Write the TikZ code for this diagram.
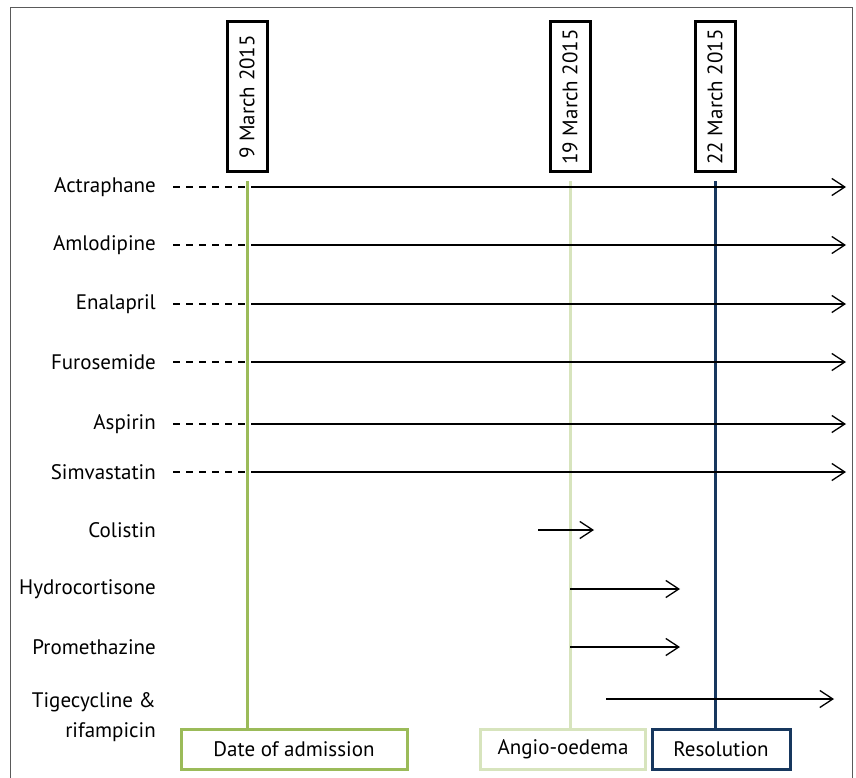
\documentclass[tikz,border=0pt]{standalone}
\usepackage{fontspec}
\setmainfont{PT Sans}
\usepackage{tikz}
\usetikzlibrary{arrows.meta}
\definecolor{admgreen}{RGB}{155,187,89}
\definecolor{angiogreen}{RGB}{215,228,189}
\definecolor{resnavy}{RGB}{23,55,94}
\definecolor{framegray}{RGB}{90,90,90}
\tikzstyle{drug} = [anchor=east, inner sep=0pt, font=\fontsize{21}{30}\selectfont, align=right]
\tikzstyle{datebox} = [draw, line width=3pt, rotate=90, minimum width=150pt, minimum height=40pt, inner sep=0pt, font=\fontsize{21}{24}\selectfont]
\tikzstyle{eventbox} = [draw, line width=3pt, minimum height=40pt, inner sep=0pt, font=\fontsize{21}{24}\selectfont]
\tikzstyle{given} = [line width=1.3pt, -{Straight Barb[length=13pt, width=17pt, line width=1.3pt]}]
\tikzstyle{before} = [line width=1.2pt, dash pattern=on 7pt off 6pt]

\begin{document}
\begin{tikzpicture}[x=1pt, y=-1pt]
			\useasboundingbox (0,0) rectangle (856,778);
			\draw[framegray, line width=1pt] (10,790)--(10,8)--(852,8)--(852,790);
			% dates
			\node[datebox] (d1) at (247,97) {9 March 2015};
			\node[datebox] (d2) at (570,97) {19 March 2015};
			\node[datebox] (d3) at (715,97) {22 March 2015};
			% events
			\node[eventbox, admgreen, minimum width=226pt] (adm) at (294,749) {\textcolor{black}{Date of admission}};
			\node[eventbox, angiogreen, minimum width=165pt] (angio) at (563,749) {\textcolor{black}{Angio-oedema}};
			\node[eventbox, resnavy, minimum width=138pt] (res) at (721,749) {\textcolor{black}{Resolution}};
			\coordinate (stop) at (846,0);
			% drugs
			\node[drug] (actra) at (156,187) {Actraphane};
			\node[drug] (amlo) at (156,245) {Amlodipine};
			\node[drug] (enal) at (156,304) {Enalapril};
			\node[drug] (furo) at (156,362) {Furosemide};
			\node[drug] (aspi) at (156,424) {Aspirin};
			\node[drug] (simva) at (156,472) {Simvastatin};
			\node[drug] (coli) at (156,530) {Colistin};
			\node[drug] (hydro) at (156,589) {Hydrocortisone};
			\node[drug] (prome) at (156,647) {Promethazine};
			\node[drug, anchor=north east] (tige) at (156,692) {Tigecycline \&\\rifampicin};
			% timelines
			\draw[admgreen, line width=3pt] (d1.west) ++(0,8) -- (adm.north -| d1.west);
			\draw[angiogreen, line width=3pt] (d2.west) ++(0,8) -- (angio.north -| d2.west);
			\draw[resnavy, line width=3pt] (d3.west) ++(0,8) -- (res.north -| d3.west);
			% long term medication
			\draw[before] (actra.east) ++(17,0) -- (actra -| d1.west);
			\draw[given] (actra -| d1.west) ++(4,0) -- (actra -| stop);
			\draw[before] (amlo.east) ++(17,0) -- (amlo -| d1.west);
			\draw[given] (amlo -| d1.west) ++(4,0) -- (amlo -| stop);
			\draw[before] (enal.east) ++(17,0) -- (enal -| d1.west);
			\draw[given] (enal -| d1.west) ++(4,0) -- (enal -| stop);
			\draw[before] (furo.east) ++(17,0) -- (furo -| d1.west);
			\draw[given] (furo -| d1.west) ++(4,0) -- (furo -| stop);
			\draw[before] (aspi.east) ++(17,0) -- (aspi -| d1.west);
			\draw[given] (aspi -| d1.west) ++(4,0) -- (aspi -| stop);
			\draw[before] (simva.east) ++(17,0) -- (simva -| d1.west);
			\draw[given] (simva -| d1.west) ++(4,0) -- (simva -| stop);
			% in hospital
			\draw[given] (coli -| d2.west) ++(-32,0) -- ++(56,0);
			\draw[given] (hydro -| d2.west) -- ++(110,0);
			\draw[given] (prome -| d2.west) -- ++(110,0);
			\draw[given] (tige.north east) ++(450,7) -- ++(228,0);
		\end{tikzpicture}
\end{document}
